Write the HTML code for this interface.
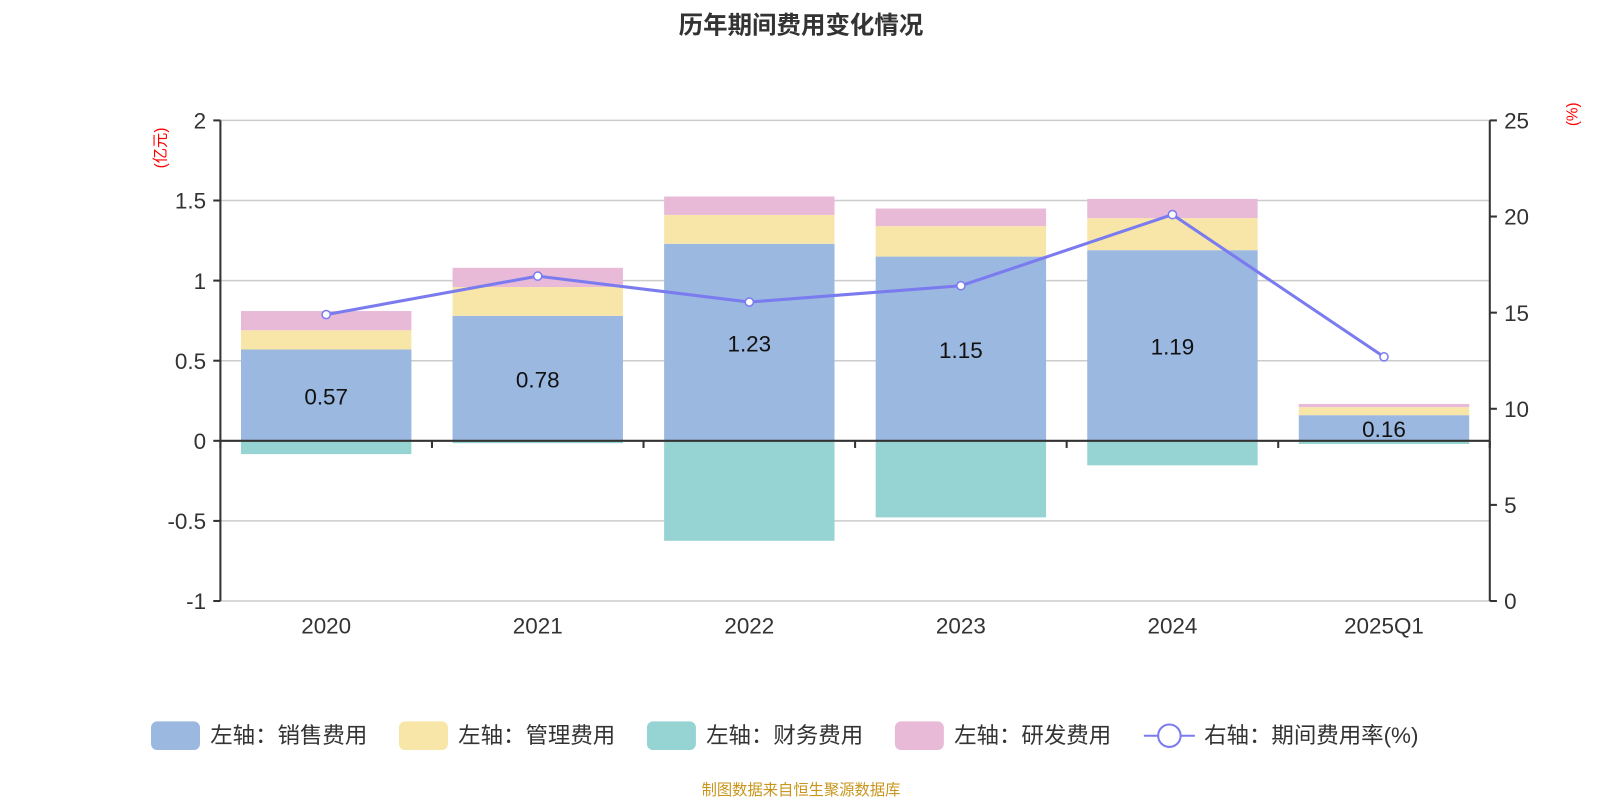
<!DOCTYPE html>
<html><head><meta charset="utf-8"><style>
body{margin:0;background:#fff;}
svg{display:block;font-family:"Liberation Sans","Noto Sans CJK SC",sans-serif;}
</style></head><body>
<svg id="c" width="1600" height="800">
<g transform="scale(1.0204)">
<text x="785" y="33" text-anchor="middle" font-size="24" font-weight="bold" fill="#333">历年期间费用变化情况</text>
<text transform="translate(162,145) rotate(-90)" text-anchor="middle" font-size="15" fill="red">(亿元)</text>
<text transform="translate(1546,112) rotate(-90)" text-anchor="middle" font-size="15" fill="red">(%)</text>
<g id="grid"></g><g id="bars"></g><g id="axes"></g><g id="line"></g>
<g id="legend"></g>
<text x="785" y="779" text-anchor="middle" font-size="15" fill="#c8961e">制图数据来自恒生聚源数据库</text>
</g>
</svg>
<script>
const categories=["2020","2021","2022","2023","2024","2025Q1"];
const sales=[0.57,0.78,1.23,1.15,1.19,0.16];
const mgmt=[0.12,0.18,0.18,0.19,0.2,0.05];
const finance=[-0.083,-0.015,-0.624,-0.478,-0.153,-0.02];
const rd=[0.12,0.12,0.115,0.11,0.12,0.02];
const rate=[14.9,16.9,15.55,16.4,20.1,12.7];
const leftTicks=[2,1.5,1,0.5,0,-0.5,-1];
const rightTicks=[25,20,15,10,5,0];
const NS="http://www.w3.org/2000/svg";
const X0=216,X1=1460,YT=118,YB=589;
const yL=v=>YT+(2-v)/3*(YB-YT);
const yR=v=>YB-v/25*(YB-YT);
const bw=(X1-X0)/categories.length;
const xc=i=>X0+bw*(i+0.5);
function mk(p,tag,a){const e=document.createElementNS(NS,tag);for(const k in a)e.setAttribute(k,a[k]);document.getElementById(p).appendChild(e);return e;}
leftTicks.forEach(t=>{
 const g=mk('grid','line',{x1:X0,x2:X1,y1:yL(t),y2:yL(t),stroke:'#ccc','stroke-width':1.5});
 
 
 const tk=mk('axes','line',{x1:X0-7,x2:X0,y1:yL(t),y2:yL(t),stroke:'#333','stroke-width':2});
 
 
 const tx=mk('axes','text',{x:X0-14,y:yL(t)+8,'text-anchor':'end','font-size':22,fill:'#333'});
 tx.textContent=t;
 
 
});
rightTicks.forEach(t=>{
 const tk=mk('axes','line',{x1:X1,x2:X1+7,y1:yR(t),y2:yR(t),stroke:'#333','stroke-width':2});
 
 
 const tx=mk('axes','text',{x:X1+14,y:yR(t)+8,'font-size':22,fill:'#333'});
 tx.textContent=t;
 
 
});
let a=mk('axes','line',{x1:X0,x2:X0,y1:YT,y2:YB,stroke:'#333','stroke-width':2});

a=mk('axes','line',{x1:X1,x2:X1,y1:YT,y2:YB,stroke:'#333','stroke-width':2});

a=mk('axes','line',{x1:X0,x2:X1,y1:yL(0),y2:yL(0),stroke:'#333','stroke-width':2});

for(let i=0;i<=categories.length;i++){
 const t=mk('axes','line',{x1:X0+bw*i,x2:X0+bw*i,y1:yL(0),y2:yL(0)+7,stroke:'#333','stroke-width':2});
 
 
}
const BW=167;
function rect(i,v0,v1,col,name){
 const r=mk('bars','rect',{x:xc(i)-BW/2,y:Math.min(yL(v0),yL(v1)),width:BW,height:Math.abs(yL(v0)-yL(v1)),fill:col});
 
 
}
categories.forEach((c,i)=>{
 rect(i,0,sales[i],'#9bb8e0','bar-sales-'+c);
 rect(i,sales[i],sales[i]+mgmt[i],'#f8e6a8','bar-mgmt-'+c);
 rect(i,sales[i]+mgmt[i],sales[i]+mgmt[i]+rd[i],'#e8bad8','bar-rd-'+c);
 rect(i,0,finance[i],'#96d3d3','bar-finance-'+c);
 const lb=mk('bars','text',{x:xc(i),y:yL(sales[i]/2)+9,'text-anchor':'middle','font-size':22,fill:'#111'});
 lb.textContent=sales[i].toFixed(2);
 
 
 const xl=mk('axes','text',{x:xc(i),y:621,'text-anchor':'middle','font-size':22,fill:'#333'});
 xl.textContent=c;
 
 
});
const pl=mk('line','polyline',{points:rate.map((v,i)=>xc(i)+','+yR(v)).join(' '),fill:'none',stroke:'#7b7bf0','stroke-width':3});


rate.forEach((v,i)=>{
 const p=mk('line','circle',{cx:xc(i),cy:yR(v),r:4,fill:'#fff',stroke:'#7b7bf0','stroke-width':1.5});
 
 
});
const leg=[["左轴：销售费用","#9bb8e0",148],["左轴：管理费用","#f8e6a8",391],["左轴：财务费用","#96d3d3",634],["左轴：研发费用","#e8bad8",877]];
leg.forEach(l=>{
 const r=mk('legend','rect',{x:l[2],y:707,width:48,height:28,rx:6,fill:l[1]});
 
 
 const t=mk('legend','text',{x:l[2]+58,y:728,'font-size':22,fill:'#333'});
 t.textContent=l[0];
 
 
});
let ll=mk('legend','line',{x1:1121,x2:1171,y1:721,y2:721,stroke:'#7b7bf0','stroke-width':2});

ll=mk('legend','circle',{cx:1146,cy:721,r:11,fill:'#fff',stroke:'#7b7bf0','stroke-width':2});

ll=mk('legend','text',{x:1180,y:728,'font-size':22,fill:'#333'});
ll.textContent="右轴：期间费用率(%)";

</script>
</body></html>
